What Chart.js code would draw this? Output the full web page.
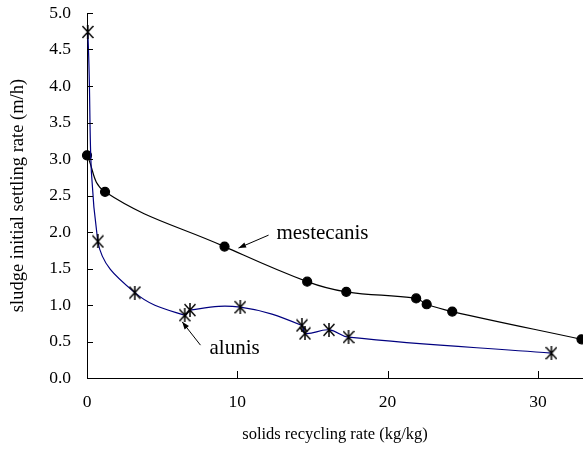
<!DOCTYPE html>
<html lang="en">
<head>
  <meta charset="UTF-8">
  <title>Sludge settling rate vs solids recycling rate</title>
  <style>
    * { margin: 0; padding: 0; box-sizing: border-box; }
    body { background: #fff; width: 583px; height: 449px; overflow: hidden; }
    .wrap { position: relative; width: 583px; height: 449px; }
  </style>
</head>
<body>
<div class="wrap">
  <canvas id="settleChart"></canvas>
</div>

<script src="https://cdn.jsdelivr.net/npm/chart.js"></script>
<script>
  // data
  const mestecanisX = [0, 1.2, 9.15, 14.65, 17.25, 21.9, 22.6, 24.3, 32.9];
  const mestecanisY = [3.05, 2.55, 1.80, 1.32, 1.18, 1.09, 1.01, 0.91, 0.53];

  const alunisX = [0.05, 0.72, 3.18, 6.5, 6.85, 10.2, 14.3, 14.5, 16.1, 17.4, 30.9];
  const alunisY = [4.74, 1.87, 1.17, 0.86, 0.93, 0.97, 0.72, 0.61, 0.66, 0.56, 0.34];

  const xTicks = [0, 10, 20, 30];
  const yTicks = [0, 0.5, 1, 1.5, 2, 2.5, 3, 3.5, 4, 4.5, 5];

  const serif = "'Liberation Serif', 'Times New Roman', serif";

  // annotation anchors, in data units
  const notes = [
    { text: 'mestecanis', x: 12.6, y: 1.985, from: [12.08, 1.957], to: [10.08, 1.78] },
    { text: 'alunis', x: 8.15, y: 0.41, from: [7.55, 0.45], to: [6.33, 0.77] }
  ];

  function toPoints(xs, ys) {
    return xs.map((x, i) => ({ x: x, y: ys[i] }));
  }

  // excel style asterisk: X plus a vertical bar
  function asterisk(w, h) {
    const c = document.createElement('canvas');
    c.width = w; c.height = h;
    const g = c.getContext('2d');
    g.strokeStyle = '#000';
    g.lineWidth = 1.5;
    g.beginPath();
    g.moveTo(0.5, 1); g.lineTo(w - 0.5, h - 1);
    g.moveTo(w - 0.5, 1); g.lineTo(0.5, h - 1);
    g.moveTo(w / 2, 0); g.lineTo(w / 2, h);
    g.stroke();
    return c;
  }

  // short tick marks pointing into the plot
  const innerTicks = {
    id: 'innerTicks',
    afterDraw(chart) {
      const { ctx, chartArea, scales } = chart;
      ctx.save();
      ctx.strokeStyle = '#000';
      ctx.lineWidth = 1;
      ctx.beginPath();
      yTicks.forEach(v => {
        const py = Math.round(scales.y.getPixelForValue(v)) + 0.5;
        ctx.moveTo(chartArea.left, py);
        ctx.lineTo(chartArea.left + 6, py);
      });
      xTicks.forEach(v => {
        const px = Math.round(scales.x.getPixelForValue(v)) + 0.5;
        ctx.moveTo(px, chartArea.bottom);
        ctx.lineTo(px, chartArea.bottom - 7);
      });
      ctx.stroke();
      ctx.restore();
    }
  };

  const labels = {
    id: 'labels',
    afterDraw(chart) {
      const { ctx, scales } = chart;
      ctx.save();
      ctx.fillStyle = '#000';
      ctx.strokeStyle = '#000';
      ctx.lineWidth = 1;
      ctx.font = '21px ' + serif;
      ctx.textBaseline = 'middle';
      notes.forEach(n => {
        ctx.fillText(n.text, scales.x.getPixelForValue(n.x), scales.y.getPixelForValue(n.y));
        const x1 = scales.x.getPixelForValue(n.from[0]);
        const y1 = scales.y.getPixelForValue(n.from[1]);
        const x2 = scales.x.getPixelForValue(n.to[0]);
        const y2 = scales.y.getPixelForValue(n.to[1]);
        ctx.beginPath();
        ctx.moveTo(x1, y1);
        ctx.lineTo(x2, y2);
        ctx.stroke();
        const a = Math.atan2(y2 - y1, x2 - x1);
        ctx.beginPath();
        ctx.moveTo(x2, y2);
        ctx.lineTo(x2 - 8 * Math.cos(a - 0.35), y2 - 8 * Math.sin(a - 0.35));
        ctx.lineTo(x2 - 8 * Math.cos(a + 0.35), y2 - 8 * Math.sin(a + 0.35));
        ctx.closePath();
        ctx.fill();
      });
      ctx.restore();
    }
  };

  const canvas = document.getElementById('settleChart');
  canvas.width = 583;
  canvas.height = 449;

  new Chart(canvas, {
    type: 'line',
    data: {
      datasets: [
        {
          label: 'alunis',
          data: toPoints(alunisX, alunisY),
          borderColor: '#000080',
          borderWidth: 1.2,
          tension: 0.4,
          pointStyle: asterisk(12, 14),
          pointRadius: 6,
          clip: false
        },
        {
          label: 'mestecanis',
          data: toPoints(mestecanisX, mestecanisY),
          borderColor: '#000',
          borderWidth: 1.2,
          tension: 0.4,
          pointStyle: 'circle',
          pointRadius: 4.5,
          pointBackgroundColor: '#000',
          pointBorderColor: '#000',
          clip: false
        }
      ]
    },
    options: {
      responsive: false,
      animation: false,
      events: [],
      layout: { autoPadding: false, padding: { top: 13, right: 0, bottom: 0, left: 0 } },
      plugins: {
        legend: { display: false },
        tooltip: { enabled: false }
      },
      scales: {
        x: {
          type: 'linear',
          min: 0,
          max: 33,
          afterFit: s => { s.height = 71; s.paddingLeft = 0; s.paddingRight = 0; },
          afterBuildTicks: s => { s.ticks = xTicks.map(v => ({ value: v })); },
          grid: { display: false, drawTicks: false },
          border: { display: true, color: '#000', width: 1 },
          ticks: {
            color: '#000',
            padding: 14,
            font: { family: serif, size: 17.5 }
          },
          title: {
            display: true,
            text: 'solids recycling rate (kg/kg)',
            color: '#000',
            font: { family: serif, size: 16.5 },
            padding: { top: 0, bottom: 4 }
          }
        },
        y: {
          min: 0,
          max: 5,
          afterFit: s => { s.width = 87; s.paddingTop = 0; s.paddingBottom = 0; },
          afterBuildTicks: s => { s.ticks = yTicks.map(v => ({ value: v })); },
          grid: { display: false, drawTicks: false },
          border: { display: true, color: '#000', width: 1 },
          ticks: {
            color: '#000',
            padding: 16,
            font: { family: serif, size: 17.5 },
            callback: v => v.toFixed(1)
          },
          title: {
            display: true,
            text: 'sludge initial settling rate (m/h)',
            color: '#000',
            font: { family: serif, size: 18.5 },
            padding: { top: 7, bottom: 0 }
          }
        }
      }
    },
    plugins: [innerTicks, labels]
  });
</script>
</body>
</html>
